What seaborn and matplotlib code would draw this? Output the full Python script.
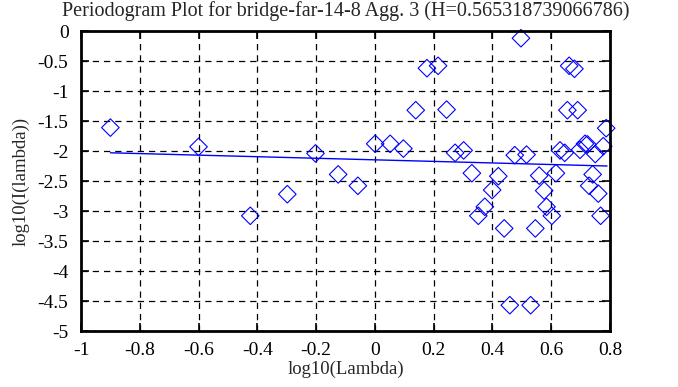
import matplotlib
matplotlib.use("Agg")
import matplotlib.pyplot as plt
import seaborn as sns
import pandas as pd

# points
log_lambda = [-0.90, -0.60, -0.424, -0.298, -0.202, -0.125, -0.058, 0.001, 0.052, 0.097,
              0.139, 0.177, 0.215, 0.244, 0.273, 0.302, 0.330, 0.352, 0.374, 0.399,
              0.42, 0.44, 0.459, 0.476, 0.497, 0.516, 0.53, 0.546, 0.559, 0.576,
              0.584, 0.602, 0.616, 0.63, 0.646, 0.655, 0.661, 0.679, 0.690, 0.698,
              0.715, 0.723, 0.729, 0.741, 0.75, 0.760, 0.768, 0.777, 0.787]
log_I = [-1.61, -1.93, -3.08, -2.72, -2.04, -2.39, -2.58, -1.88, -1.88, -1.96,
         -1.32, -0.62, -0.58, -1.31, -2.03, -1.99, -2.37, -3.08, -2.93, -2.65,
         -2.42, -3.29, -4.57, -2.07, -0.12, -2.06, -4.57, -3.29, -2.41, -2.66,
         -2.93, -3.08, -2.37, -1.99, -2.03, -1.32, -0.58, -0.63, -1.32, -1.98,
         -1.88, -1.89, -2.58, -2.39, -2.05, -2.71, -3.08, -1.92, -1.62]

# fitted line end points
fit_x = [-0.90, 0.79]
fit_y = [-2.03, -2.25]

df = pd.DataFrame({"x": log_lambda, "y": log_I})
fit = pd.DataFrame({"x": fit_x, "y": fit_y})

sns.set_style("white")
plt.rcParams["font.family"] = ["Liberation Serif", "DejaVu Serif"]
plt.rcParams["axes.unicode_minus"] = False

fig = plt.figure(figsize=(6.78, 3.87), dpi=100)
ax = fig.add_axes([81 / 678, 1 - 331 / 387, 529 / 678, 300 / 387])

sns.scatterplot(data=df, x="x", y="y", marker="D", s=80, facecolors="none",
                edgecolor="blue", linewidth=0.8, ax=ax, clip_on=False)
sns.lineplot(data=fit, x="x", y="y", color="blue", linewidth=1, ax=ax)

ax.set_xlim(-1, 0.8)
ax.set_ylim(-5, 0)
ax.set_xticks([-1, -0.8, -0.6, -0.4, -0.2, 0, 0.2, 0.4, 0.6, 0.8])
ax.set_xticklabels(["-1", "-0.8", "-0.6", "-0.4", "-0.2", "0", "0.2", "0.4", "0.6", "0.8"])
ax.set_yticks([0, -0.5, -1, -1.5, -2, -2.5, -3, -3.5, -4, -4.5, -5])
ax.set_yticklabels(["0", "-0.5", "-1", "-1.5", "-2", "-2.5", "-3", "-3.5", "-4", "-4.5", "-5"])
ax.grid(True, color="black", linestyle=(0, (5, 4)), linewidth=0.9)
ax.tick_params(direction="in", length=6, width=1.2, labelsize=14, colors="black",
               left=True, right=True, bottom=True, top=True)
ax.tick_params(axis="x", pad=8)
ax.tick_params(axis="y", pad=9)
for sp in ax.spines.values():
    sp.set_color("black")
    sp.set_linewidth(2)

ax.set_title("Periodogram Plot for bridge-far-14-8 Agg. 3 (H=0.565318739066786)",
             fontsize=14.5, pad=11)
ax.set_xlabel("log10(Lambda)", fontsize=13.5, labelpad=1)
ax.set_ylabel("log10(I(lambda))", fontsize=13.5, labelpad=6)

fig.savefig("out.png", dpi=100)
